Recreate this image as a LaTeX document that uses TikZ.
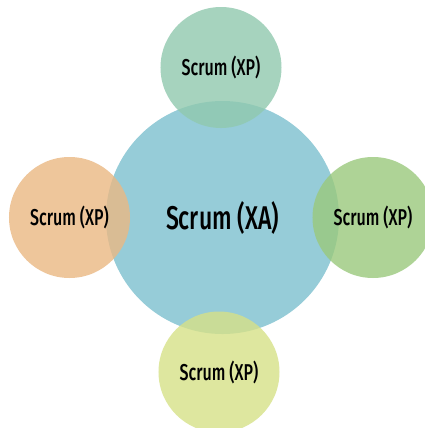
\documentclass[tikz,border=0pt]{standalone}
\usepackage{fontspec}
\setmainfont[FakeStretch=0.7, UprightFont=* Medium, BoldFont=* SemiBold]{Fira Sans}
\definecolor{coreblue}{RGB}{150,204,216}
\definecolor{topgreen}{RGB}{144,201,174}
\definecolor{leftorange}{RGB}{234,184,131}
\definecolor{rightgreen}{RGB}{154,201,124}
\definecolor{bottomyellow}{RGB}{214,225,135}
\tikzset{
  core/.style={circle, fill=coreblue, minimum size=233bp, inner sep=0pt,
    font=\fontsize{33}{38}\selectfont},
  satellite/.style={circle, fill=#1, fill opacity=0.8, text opacity=1,
    minimum size=121bp, inner sep=0pt,
    font=\fontsize{23}{27}\selectfont}
}
\begin{document}
\begin{tikzpicture}[x=1bp,y=-1bp]
  \clip (0,0) rectangle (425,428);
  \fill[white] (0,0) rectangle (425,428);
  \node[core] (xa) at (222.5,217.5) {Scrum (XA)};
  \node[satellite=topgreen] (top) at (221,67.5) {Scrum (XP)};
  \node[satellite=leftorange] (left) at (69.5,217.5) {Scrum (XP)};
  \node[satellite=rightgreen] (right) at (373,217.5) {Scrum (XP)};
  \node[satellite=bottomyellow] (bottom) at (219,372) {Scrum (XP)};
\end{tikzpicture}
\end{document}
